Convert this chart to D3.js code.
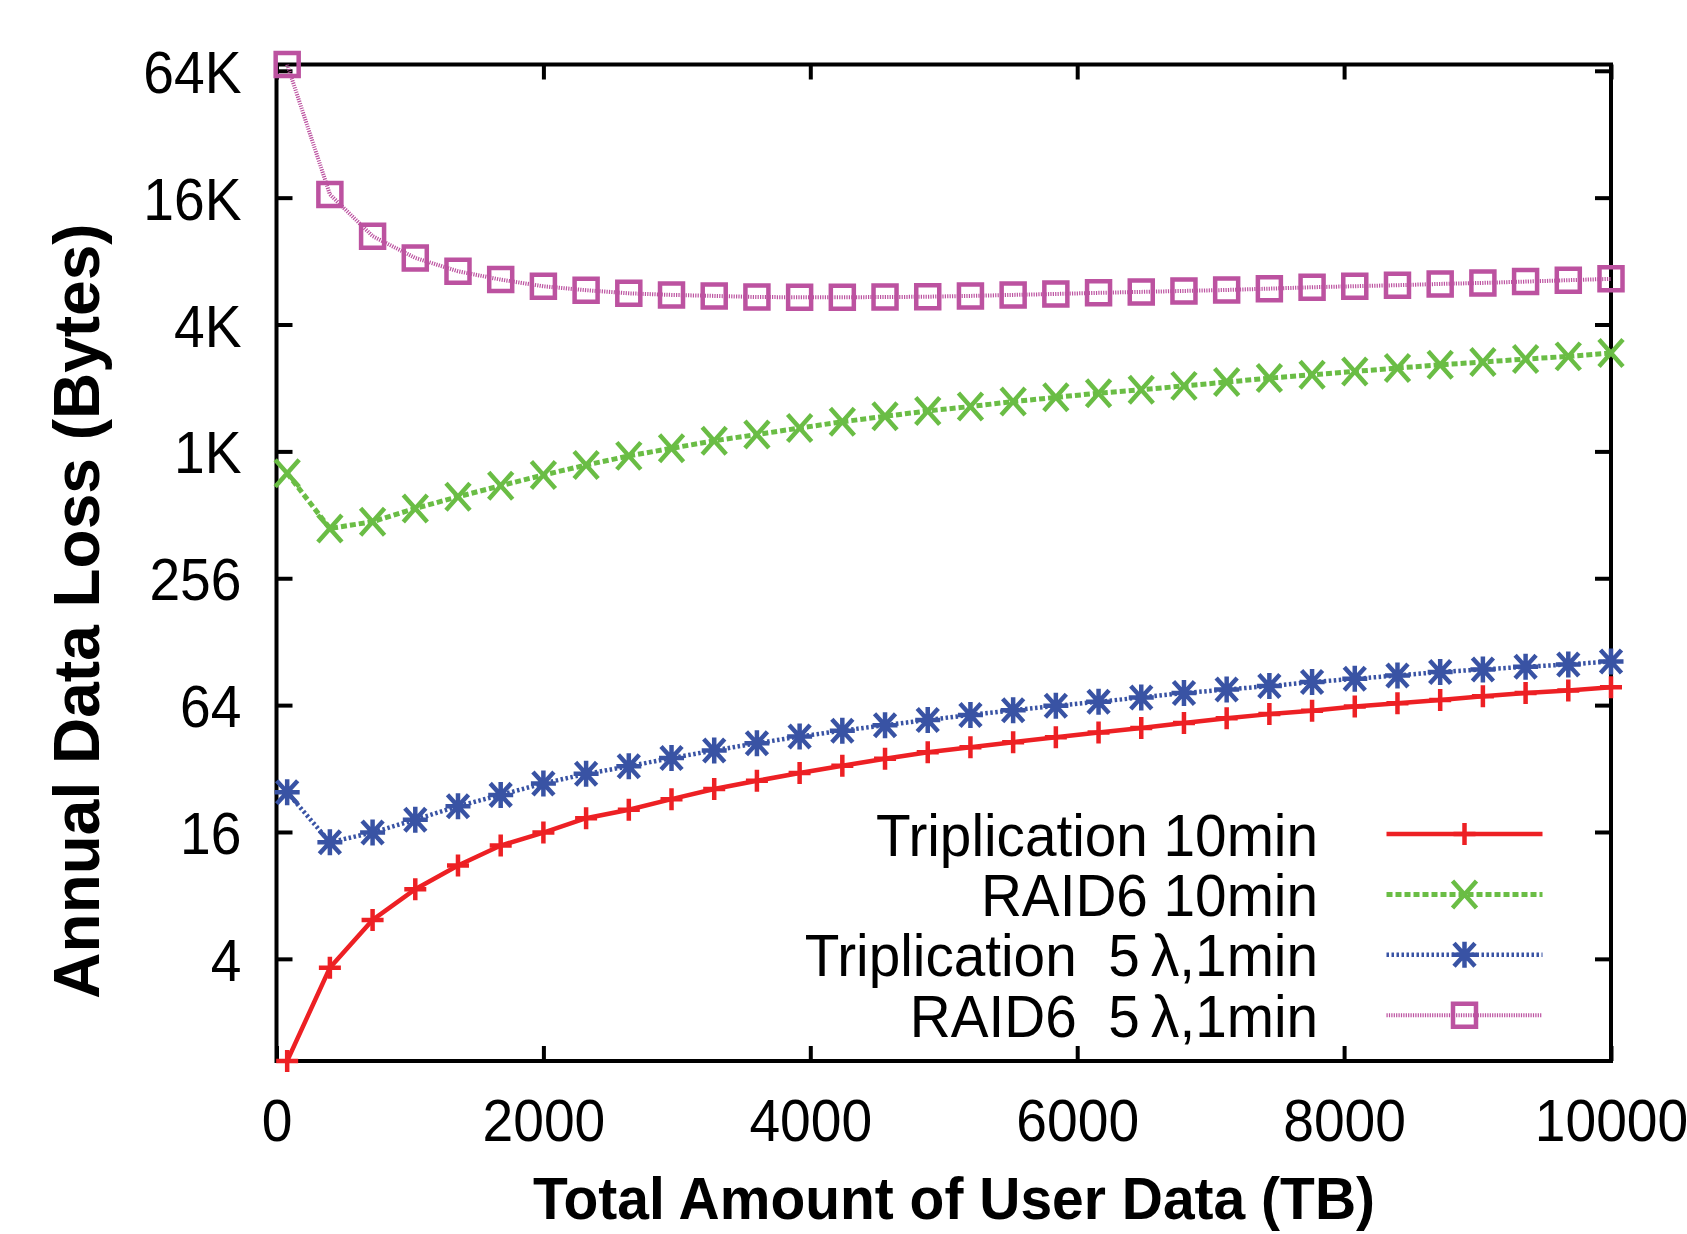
<!DOCTYPE html>
<html>
<head>
<meta charset="utf-8">
<script src="https://cdn.jsdelivr.net/npm/d3@7"></script>
<style>
html, body { margin: 0; padding: 0; background: #fff; }
svg { display: block; }
text { font-family: "Liberation Sans", Arial, Helvetica, sans-serif; fill: #000; }
</style>
</head>
<body>
<svg id="chart" width="1687" height="1234"></svg>
<script>
// Total amount of user data (TB), one point every 320 TB
var userData = [80, 400, 720, 1040, 1360, 1680, 2000, 2320, 2640, 2960, 3280, 3600, 3920, 4240, 4560, 4880,
	5200, 5520, 5840, 6160, 6480, 6800, 7120, 7440, 7760, 8080, 8400, 8720, 9040, 9360, 9680, 10000];

// Annual data loss (bytes)
var triplication10 = [1.31, 3.63, 6.12, 8.56, 11.1, 13.8, 15.9, 18.6, 20.4, 22.9, 25.6, 28.0, 30.5, 33.0, 35.6, 38.2,
	40.4, 42.7, 45.1, 47.4, 49.8, 52.6, 55.5, 58.0, 60.2, 63.0, 65.4, 67.7, 70.5, 73.1, 75.0, 77.7];
var raid10 = [806, 441, 475, 549, 624, 704, 791, 882, 975, 1059, 1150, 1231, 1322, 1415, 1502, 1594,
	1672, 1764, 1848, 1935, 2006, 2095, 2183, 2281, 2364, 2454, 2545, 2638, 2718, 2808, 2892, 2998];
var triplication5 = [24.7, 14.3, 15.9, 18.3, 21.2, 24.0, 27.2, 30.2, 32.8, 35.9, 39.0, 42.2, 45.4, 48.4, 51.4, 54.4,
	57.5, 60.5, 63.5, 66.4, 69.6, 73.0, 75.9, 78.8, 82.3, 85.3, 88.5, 91.9, 94.5, 97.3, 99.8, 103.2];
var raid5 = [70200, 16980, 10760, 8480, 7330, 6690, 6220, 5960, 5760, 5660, 5600, 5530, 5520, 5520, 5530, 5550,
	5600, 5660, 5720, 5790, 5850, 5912, 5975, 6062, 6156, 6225, 6294, 6383, 6454, 6548, 6650, 6746];

var seriesNames = ["Triplication 10min", "RAID6 10min", "Triplication  5\u2009\u03bb,1min", "RAID6  5\u2009\u03bb,1min"];
var seriesValues = [triplication10, raid10, triplication5, raid5];

var xTicks = [0, 2000, 4000, 6000, 8000, 10000];
var yTicks = [4, 16, 64, 256, 1024, 4096, 16384, 65536];
var yTickLabels = ["4", "16", "64", "256", "1K", "4K", "16K", "64K"];

// gnuplot-ish line styles: lt 1..4 with points 1..4
var styles = [
	{color: "#ed2024", width: 4.5, dash: null, marker: "plus"},
	{color: "#6abd45", width: 5, dash: "6,3", marker: "cross"},
	{color: "#3953a4", width: 4.5, dash: "2.5,2.5", marker: "star"},
	{color: "#bc52a0", width: 4, dash: "1.2,1.2", marker: "square"}
];

var plot = {left: 276.5, right: 1611, top: 64.5, bottom: 1061};
var squeeze = 0.92;	// source figure was squashed sideways a bit, so the text is narrow

var svg = d3.select("#chart");

var x = d3.scaleLinear().domain([0, 10000]).range([plot.left, plot.right]);
var y = d3.scaleLog().base(2).domain([1.31, 70200]).range([plot.bottom, plot.top]);

function markerPath(type) {
	if (type == "plus") return "M-11,0H11M0,-11V11";
	if (type == "cross") return "M-12,-13.5L12,13.5M-12,13.5L12,-13.5";
	if (type == "star") return "M-12.5,0H12.5M0,-13V13M-10.5,-11.5L10.5,11.5M-10.5,11.5L10.5,-11.5";
	return "M-11.5,-11.5H11.5V11.5H-11.5Z";
}

svg.append("defs").append("clipPath").attr("id", "plotclip")
	.append("rect")
	.attr("x", plot.left).attr("y", plot.top)
	.attr("width", plot.right - plot.left).attr("height", plot.bottom - plot.top);

// Axes - ticks point inward, mirrored on top/right
function styleAxis(g) {
	g.attr("font-family", null).attr("font-size", null);
	g.select(".domain").remove();
	g.selectAll(".tick line").attr("stroke", "#000").attr("stroke-width", 4);
}

var bottomAxis = svg.append("g")
	.attr("transform", "translate(0," + plot.bottom + ")")
	.call(d3.axisBottom(x).tickValues(xTicks).tickSize(-15).tickFormat(d3.format("d")))
	.call(styleAxis);
bottomAxis.selectAll("text")
	.attr("y", null).attr("dy", null)
	.attr("transform", "translate(0,80) scale(" + squeeze + ",1)")
	.style("font-size", "60px");

svg.append("g")
	.attr("transform", "translate(0," + plot.top + ")")
	.call(d3.axisTop(x).tickValues(xTicks).tickSize(-15).tickFormat(""))
	.call(styleAxis);

var leftAxis = svg.append("g")
	.attr("transform", "translate(" + plot.left + ",0)")
	.call(d3.axisLeft(y).tickValues(yTicks).tickSize(-16).tickFormat(function(d, i) { return yTickLabels[i]; }))
	.call(styleAxis);
leftAxis.selectAll("text")
	.attr("x", null).attr("dy", "0.36em")
	.attr("transform", "translate(-35,0) scale(" + squeeze + ",1)")
	.style("font-size", "60px");

svg.append("g")
	.attr("transform", "translate(" + plot.right + ",0)")
	.call(d3.axisRight(y).tickValues(yTicks).tickSize(-16).tickFormat(""))
	.call(styleAxis);

// border
svg.append("rect")
	.attr("x", plot.left).attr("y", plot.top)
	.attr("width", plot.right - plot.left).attr("height", plot.bottom - plot.top)
	.attr("fill", "none").attr("stroke", "#000").attr("stroke-width", 4);

// Series
var line = d3.line()
	.x(function(d, i) { return x(userData[i]); })
	.y(function(d) { return y(d); });

seriesValues.forEach(function(values, s) {
	var st = styles[s];
	svg.append("path")
		.attr("d", line(values))
		.attr("clip-path", "url(#plotclip)")
		.attr("fill", "none")
		.attr("stroke", st.color)
		.attr("stroke-width", st.width)
		.attr("stroke-dasharray", st.dash);

	svg.append("g").selectAll("path")
		.data(values)
		.join("path")
		.attr("transform", function(d, i) { return "translate(" + x(userData[i]) + "," + y(d) + ")"; })
		.attr("d", markerPath(st.marker))
		.attr("fill", "none")
		.attr("stroke", st.color)
		.attr("stroke-width", 4.5);
});

// Legend (bottom right, inside the plot)
var legend = svg.append("g");
seriesNames.forEach(function(name, s) {
	var st = styles[s];
	var rowY = 834 + s * 60.4;
	legend.append("text")
		.attr("transform", "translate(1318," + rowY + ") scale(0.945,1)")
		.attr("dy", "0.36em")
		.attr("text-anchor", "end")
		.style("font-size", "60px")
		.style("white-space", "pre")
		.text(name);
	legend.append("line")
		.attr("x1", 1386.5).attr("x2", 1542.5)
		.attr("y1", rowY).attr("y2", rowY)
		.attr("stroke", st.color)
		.attr("stroke-width", st.width)
		.attr("stroke-dasharray", st.dash);
	legend.append("path")
		.attr("transform", "translate(1464.5," + rowY + ")")
		.attr("d", markerPath(st.marker))
		.attr("fill", "none")
		.attr("stroke", st.color)
		.attr("stroke-width", 4.5);
});

// Axis titles
svg.append("text")
	.attr("transform", "translate(99,611) rotate(-90)")
	.attr("text-anchor", "middle")
	.style("font-size", "64px")
	.style("font-weight", "bold")
	.text("Annual Data Loss (Bytes)");

svg.append("text")
	.attr("transform", "translate(954,1219) scale(0.95,1)")
	.attr("text-anchor", "middle")
	.style("font-size", "60px")
	.style("font-weight", "bold")
	.text("Total Amount of User Data (TB)");
</script>
</body>
</html>
